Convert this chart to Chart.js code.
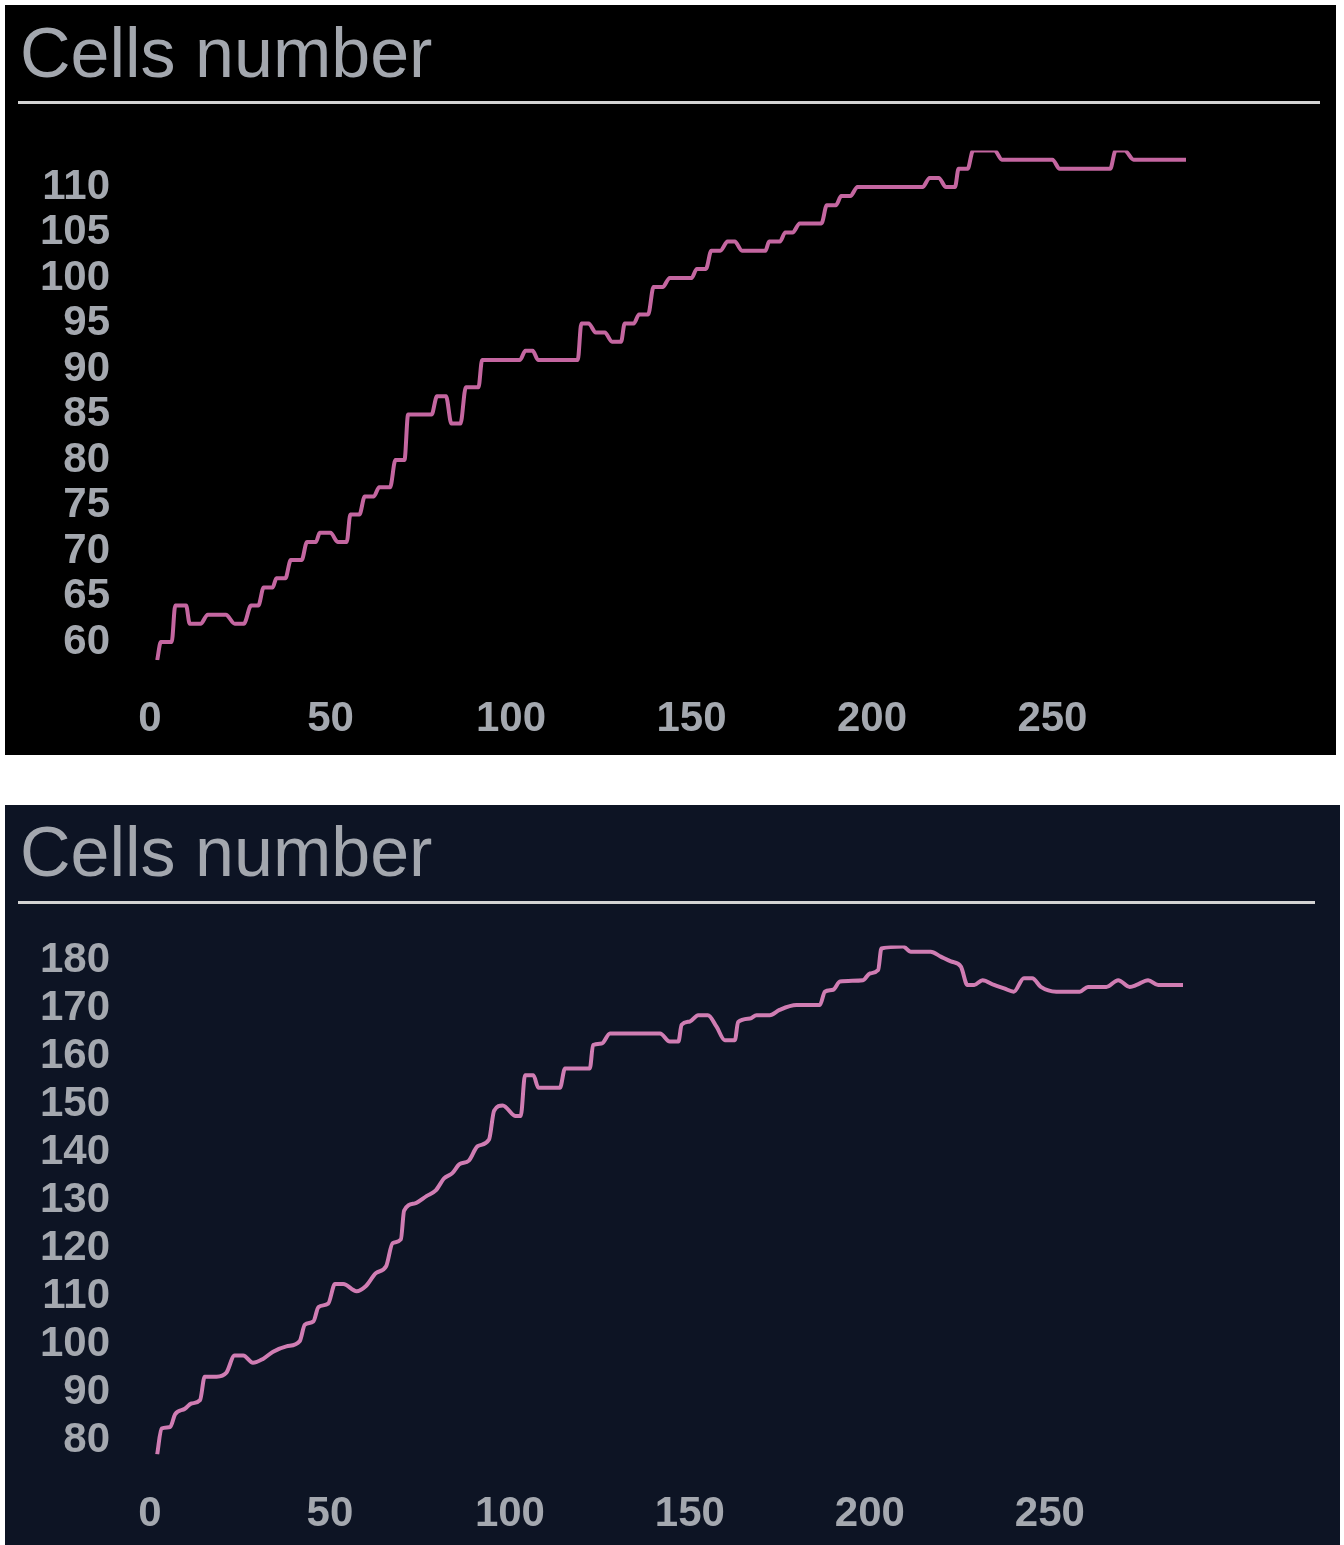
<!DOCTYPE html>
<html>
<head>
<meta charset="utf-8">
<script src="https://cdn.jsdelivr.net/npm/chart.js@4.4.1/dist/chart.umd.min.js"></script>
<style>
    html, body { margin: 0; padding: 0; background: #fff; width: 1344px; height: 1545px; overflow: hidden; }
    .panel { position: absolute; }
    .title { position: absolute; left: 20px; font: 70px/70px 'Liberation Sans', Arial, sans-serif; color: #a3a7ae; white-space: nowrap; }
    .rule { position: absolute; height: 3px; background: #d3d3d3; }
    .box { position: absolute; }
</style>
</head>
<body>
<div class="panel" style="left:5px;top:5px;width:1331px;height:750px;background:#000;"></div>
<div class="panel" style="left:5px;top:805px;width:1335px;height:745px;background:#0d1424;"></div>

<div class="title" style="top:18px;">Cells number</div>
<div class="rule" style="left:18px;top:101px;width:1302px;"></div>
<div class="box" style="left:5px;top:110px;width:1331px;height:645px;"><canvas id="topChart"></canvas></div>

<div class="title" style="top:817px;">Cells number</div>
<div class="rule" style="left:18px;top:901px;width:1297px;"></div>
<div class="box" style="left:5px;top:910px;width:1335px;height:635px;"><canvas id="bottomChart"></canvas></div>

<script>
// corner points (time step, cells)
const topTimes = [2, 3, 6, 7, 10, 11, 14, 16, 21, 23.5, 26, 28, 30, 31.5, 34, 35, 37.5, 39, 42, 43.5, 46, 47, 50, 52, 54.5, 55.5, 58, 59.5, 62, 63.5, 66.5, 68, 70.5, 71.5, 78, 79.5, 82, 83.5, 86, 87.5, 91, 92, 102.5, 104, 106, 107.5, 118.5, 119.5, 121.5, 123.5, 126, 128, 130.5, 131.5, 134, 135.5, 138, 139.5, 142, 144, 150, 151.5, 154, 155.5, 158, 160, 162, 164, 170.5, 171.5, 174.5, 176, 178, 180, 186, 187.5, 190, 191.5, 194, 196, 214, 216, 218.5, 220.5, 223, 224, 226.5, 228, 234, 236, 250, 252, 266, 267.5, 270, 272.5, 287];
const topCells = [58, 60, 60, 64, 64, 62, 62, 63, 63, 62, 62, 64, 64, 66, 66, 67, 67, 69, 69, 71, 71, 72, 72, 71, 71, 74, 74, 76, 76, 77, 77, 80, 80, 85, 85, 87, 87, 84, 84, 88, 88, 91, 91, 92, 92, 91, 91, 95, 95, 94, 94, 93, 93, 95, 95, 96, 96, 99, 99, 100, 100, 101, 101, 103, 103, 104, 104, 103, 103, 104, 104, 105, 105, 106, 106, 108, 108, 109, 109, 110, 110, 111, 111, 110, 110, 112, 112, 114, 114, 113, 113, 112, 112, 114, 114, 113, 113];

const bottomTimes = [2, 3.2, 5.6, 7, 9.7, 11.5, 13.9, 15.2, 18.5, 21.2, 23.5, 25.9, 28.6, 31.4, 34.2, 37.9, 41.6, 43, 45.4, 46.8, 49.5, 51.4, 53.7, 57.4, 60, 62.8, 65.6, 67.4, 69.7, 70.6, 73.6, 76.8, 79.4, 81.7, 84, 85.9, 88.6, 91, 94.2, 95.6, 98, 101.6, 103, 104.2, 106.5, 107.9, 113.9, 115.3, 122.2, 123.1, 125.5, 127.8, 141.7, 144.4, 146.8, 147.7, 150, 152.3, 155, 157.4, 159.7, 162.5, 163.4, 166.7, 168.5, 172.2, 174.9, 179.6, 186.1, 187.5, 189.8, 191.7, 198.1, 200, 202.3, 203.2, 209.2, 211.4, 216.9, 219.7, 222.5, 225.3, 227.1, 229, 231.3, 234.5, 237.3, 240, 242.8, 245.1, 247.5, 251.8, 258.3, 260.6, 265.7, 269, 272.2, 274.1, 277.3, 280.1, 287];
const bottomCells = [77, 82.4, 82.7, 85.4, 86.5, 87.6, 88.3, 93.2, 93.2, 94, 97.6, 97.6, 96.1, 96.9, 98.4, 99.5, 100.6, 104, 104.7, 107.7, 108.4, 112.5, 112.5, 111, 112.1, 114.8, 116.2, 121, 121.8, 127.8, 129.3, 130.8, 132, 134.5, 135.6, 137.4, 138.2, 141.2, 142.6, 148.6, 149.7, 147.5, 147.5, 156, 156, 153.4, 153.4, 157.4, 157.4, 162.3, 162.6, 164.7, 164.7, 163, 163, 166.5, 167.2, 168.5, 168.5, 166.1, 163.3, 163.3, 167.1, 167.8, 168.5, 168.5, 169.6, 170.6, 170.6, 173.4, 173.8, 175.5, 175.8, 177.2, 177.9, 182.4, 182.8, 181.7, 181.7, 180.7, 179.7, 178.6, 174.8, 174.8, 175.8, 174.8, 174.1, 173.4, 176.2, 176.2, 174.4, 173.4, 173.4, 174.4, 174.4, 175.8, 174.4, 174.8, 175.8, 174.8, 174.8];

const xTickValues = [0, 50, 100, 150, 200, 250];
const topYTicks = [60, 65, 70, 75, 80, 85, 90, 95, 100, 105, 110];
const bottomYTicks = [80, 90, 100, 110, 120, 130, 140, 150, 160, 170, 180];

Chart.defaults.font.family = "'Liberation Sans', Arial, sans-serif";

// keep axis sizes fixed so the plot area sits where the reference has it
function fixAxis(axis, size) {
    if (axis.isHorizontal()) axis.height = size; else axis.width = size;
    axis.paddingTop = 0;
    axis.paddingBottom = 0;
    axis.paddingLeft = 0;
    axis.paddingRight = 0;
}

function makeChart(id, times, cells, yTicks, opts) {
    const points = times.map((t, i) => ({ x: t, y: cells[i] }));
    const tickFont = { size: 42, weight: 'bold' };
    return new Chart(document.getElementById(id), {
        type: 'line',
        data: {
            datasets: [{
                data: points,
                borderColor: opts.color,
                borderWidth: 4,
                pointRadius: 0,
                cubicInterpolationMode: 'monotone',
                fill: false
            }]
        },
        options: {
            responsive: true,
            maintainAspectRatio: false,
            animation: false,
            layout: { padding: opts.padding },
            plugins: { legend: { display: false }, tooltip: { enabled: false } },
            scales: {
                x: {
                    type: 'linear',
                    min: 0,
                    max: 287,
                    grid: { display: false, drawTicks: false },
                    border: { display: false },
                    ticks: { color: '#a4a8af', font: tickFont, padding: opts.xPad, maxRotation: 0, autoSkip: false },
                    afterBuildTicks: axis => { axis.ticks = xTickValues.map(v => ({ value: v })); },
                    afterFit: axis => fixAxis(axis, 85)
                },
                y: {
                    min: opts.yMin,
                    max: opts.yMax,
                    grid: { display: false, drawTicks: false },
                    border: { display: false },
                    ticks: { color: '#a4a8af', font: tickFont, padding: 40, autoSkip: false },
                    afterBuildTicks: axis => { axis.ticks = yTicks.map(v => ({ value: v })); },
                    afterFit: axis => fixAxis(axis, 110)
                }
            }
        }
    });
}

makeChart('topChart', topTimes, topCells, topYTicks, {
    color: '#c466a0', yMin: 58, yMax: 114, xPad: 34,
    padding: { left: 35, top: 40.6, right: 150, bottom: 9.8 }
});
makeChart('bottomChart', bottomTimes, bottomCells, bottomYTicks, {
    color: '#d07db3', yMin: 77, yMax: 183, xPad: 35,
    padding: { left: 35, top: 35.6, right: 157, bottom: 5.6 }
});
</script>
</body>
</html>
